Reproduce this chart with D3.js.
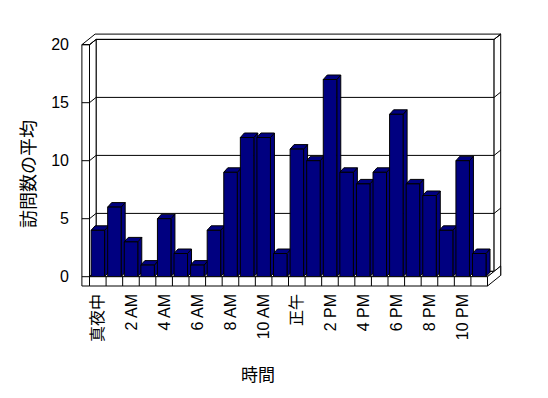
<!DOCTYPE html>
<html>
<head>
<meta charset="utf-8">
<script src="https://cdn.jsdelivr.net/npm/d3@7"></script>
<style>
  body { margin: 0; background: #fff; }
  svg { display: block; }
</style>
</head>
<body>
<div id="chart"></div>
<script>
'use strict';

// hours of the day (every other one gets a label)
var categories = ['真夜中', '1 AM', '2 AM', '3 AM', '4 AM', '5 AM', '6 AM', '7 AM', '8 AM', '9 AM', '10 AM', '11 AM',
  '正午', '1 PM', '2 PM', '3 PM', '4 PM', '5 PM', '6 PM', '7 PM', '8 PM', '9 PM', '10 PM', '11 PM'];
var visits = [4, 6, 3, 1, 5, 2, 1, 4, 9, 12, 12, 2, 11, 10, 17, 9, 8, 9, 14, 8, 7, 4, 10, 2];
var yTicks = [0, 5, 10, 15, 20];
var xLabels = categories.filter(function (d, i) { return i % 2 === 0; });
var yTitle = '訪問数の平均';
var xTitle = '時間';

var width = 548, height = 398;
var x0 = 89.5, x1 = 487.5;      // front plane left/right
var D = { x: 6.6, y: -5.3 };    // depth step of walls
var B = { x: 4, y: -4.5 };      // depth of a bar
var wallT = 7.6, floorT = 9.3;
var barW = 13.5, barOff = 1.6;
var navy = '#000080';

var x = d3.scaleBand().domain(categories).range([x0, x1]);
var y = d3.scaleLinear().domain([0, 20]).range([276.7, 44.7]);

var svg = d3.select('#chart').append('svg')
  .attr('width', width)
  .attr('height', height);

var line = d3.line();
function poly(g, pts, fill) {
  return g.append('path')
    .attr('d', line(pts) + 'Z')
    .attr('fill', fill)
    .attr('stroke', '#000')
    .attr('stroke-width', 1)
    .attr('stroke-linejoin', 'miter');
}
function seg(g, a, b) {
  g.append('line')
    .attr('x1', a[0]).attr('y1', a[1])
    .attr('x2', b[0]).attr('y2', b[1])
    .attr('stroke', '#000').attr('stroke-width', 1);
}

var yTop = y(20), yBot = y(0);
var walls = svg.append('g').attr('class', 'walls');

// back wall (inner face)
poly(walls, [[x0 + D.x, yTop + D.y], [x1 + D.x, yTop + D.y], [x1 + D.x, yBot + D.y], [x0 + D.x, yBot + D.y]], '#fff');
// left wall inner face
poly(walls, [[x0, yTop], [x0 + D.x, yTop + D.y], [x0 + D.x, yBot + D.y], [x0, yBot]], '#fff');
// back wall right side face
poly(walls, [[x1 + D.x, yTop + D.y], [x1 + 2 * D.x, yTop + 2 * D.y], [x1 + 2 * D.x, yBot + floorT + 2 * D.y], [x1 + D.x, yBot + D.y]], '#fff');
// top of back wall and left wall
poly(walls, [[x0 - wallT, yTop], [x0, yTop], [x0 + D.x, yTop + D.y], [x1 + D.x, yTop + D.y],
  [x1 + 2 * D.x, yTop + 2 * D.y], [x0 - wallT + 2 * D.x, yTop + 2 * D.y]], '#fff');

// gridlines
yTicks.forEach(function (v) {
  var yy = y(v);
  seg(walls, [x0, yy], [x0 + D.x, yy + D.y]);
  seg(walls, [x0 + D.x, yy + D.y], [x1 + D.x, yy + D.y]);
  seg(walls, [x1 + D.x, yy + D.y], [x1 + 2 * D.x, yy + 2 * D.y]);
});

// floor top
poly(walls, [[x0, yBot], [x1, yBot], [x1 + D.x, yBot + D.y], [x0 + D.x, yBot + D.y]], '#fff');

// bars
var bars = svg.append('g').attr('class', 'bars');
categories.forEach(function (c, i) {
  var bx = x(c) + barOff, top = y(visits[i]);
  var g = bars.append('g');
  poly(g, [[bx + barW, top], [bx + barW + B.x, top + B.y], [bx + barW + B.x, yBot + B.y], [bx + barW, yBot]], navy);
  poly(g, [[bx, top], [bx + B.x, top + B.y], [bx + barW + B.x, top + B.y], [bx + barW, top]], navy);
  poly(g, [[bx, top], [bx + barW, top], [bx + barW, yBot], [bx, yBot]], navy);
});

// front parts: left wall front, floor front and side
var front = svg.append('g').attr('class', 'front');
poly(front, [[x0, yBot], [x1, yBot], [x1, yBot + floorT], [x0, yBot + floorT]], '#fff');
poly(front, [[x1, yBot], [x1 + 2 * D.x, yBot + 2 * D.y], [x1 + 2 * D.x, yBot + floorT + 2 * D.y], [x1, yBot + floorT]], '#fff');
poly(front, [[x0 - wallT, yTop], [x0, yTop], [x0, yBot + floorT], [x0 - wallT, yBot + floorT]], '#fff');
yTicks.forEach(function (v) {
  seg(front, [x0 - wallT, y(v)], [x0, y(v)]);
});
categories.slice(1).forEach(function (c) {
  seg(front, [x(c), yBot], [x(c), yBot + floorT]);
});

var font = '"Liberation Sans", "Noto Sans CJK JP", sans-serif';

// y axis labels
var yAxis = svg.append('g')
  .attr('transform', 'translate(69,0)')
  .call(d3.axisLeft(y).tickValues(yTicks).tickSize(0).tickPadding(0));
yAxis.select('.domain').remove();
yAxis.selectAll('text')
  .attr('font-family', font)
  .attr('font-size', 16)
  .attr('fill', '#000');

// x axis labels
var xAxis = svg.append('g')
  .attr('transform', 'translate(0,294)')
  .call(d3.axisBottom(x).tickValues(xLabels).tickSize(0).tickPadding(0));
xAxis.select('.domain').remove();
xAxis.selectAll('text')
  .attr('font-family', font)
  .attr('font-size', 16)
  .attr('fill', '#000')
  .attr('text-anchor', 'end')
  .attr('y', 0)
  .attr('dy', '0.35em')
  .attr('transform', 'rotate(-90)');

// titles
svg.append('text')
  .attr('transform', 'translate(29,174) rotate(-90)')
  .attr('text-anchor', 'middle')
  .attr('dy', '0.35em')
  .attr('font-family', font)
  .attr('font-size', 18)
  .text(yTitle);

svg.append('text')
  .attr('x', 258)
  .attr('y', 375)
  .attr('text-anchor', 'middle')
  .attr('dy', '0.35em')
  .attr('font-family', font)
  .attr('font-size', 17)
  .text(xTitle);
</script>
</body>
</html>
